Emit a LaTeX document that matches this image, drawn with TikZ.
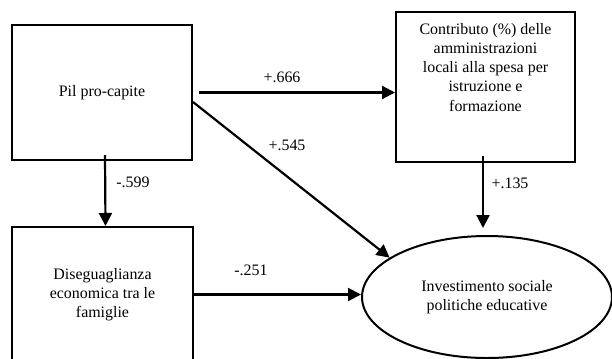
\documentclass[tikz,border=0pt]{standalone}
\usepackage{fontspec}
\setmainfont{Liberation Serif}
\usetikzlibrary{positioning, arrows.meta, shapes.geometric}

\begin{document}
\begin{tikzpicture}[
    x=1bp, y=-1bp,
    font=\fontsize{16}{19.3}\selectfont,
    >={Triangle[length=13bp, width=13bp]},
    varbox/.style={draw, line width=2bp, minimum width=180bp, minimum height=135bp,
                   align=center, inner sep=0pt},
    link/.style={->, line width=2.2bp},
    coeff/.style={inner sep=0pt},
]
\useasboundingbox (0,0) rectangle (612,358);
\clip (0,0) rectangle (612,358);

% ---- Variables ----
\node[varbox] (pil) at (102,92.5) {Pil pro-capite};

\node[varbox, minimum width=179bp, minimum height=150bp] (contrib) at (485.5,87) {};
\node[below=12bp of contrib.north, align=center, inner sep=0pt] (contribtxt)
    {Contributo (\%) delle\\ amministrazioni\\ locali alla spesa per\\ istruzione e\\ formazione};

\node[varbox] (dis) at (102.5,294.5)
    {Diseguaglianza\\ economica tra le\\ famiglie};

\node[draw, ellipse, line width=2bp, minimum width=250bp, minimum height=122bp,
      inner sep=0pt, align=center] (inv) at (487,297)
    {Investimento sociale\\ politiche educative};

% ---- Paths ----
\draw[link] ([xshift=6bp]pil.east) -- (pil.east -| contrib.west);
\draw[link] ([yshift=-9.5bp]pil.east) -- (inv.158);
\draw[link] ([xshift=3bp, yshift=6bp]pil.south) -- ([xshift=3bp]dis.north);
\draw[link] ([xshift=-2.5bp, yshift=7bp]contrib.south)
    -- ([xshift=-2.5bp, yshift=7bp]contrib.south |- inv.north);
\draw[link] (dis.east) -- (dis.east -| inv.west);

% ---- Coefficients ----
\node[coeff] (c1) at (282,77)  {+.666};
\node[coeff] (c2) at (287,145) {+.545};
\node[coeff] (c3) at (133,182) {-.599};
\node[coeff] (c4) at (510,183) {+.135};
\node[coeff] (c5) at (251,270) {-.251};

\end{tikzpicture}
\end{document}
